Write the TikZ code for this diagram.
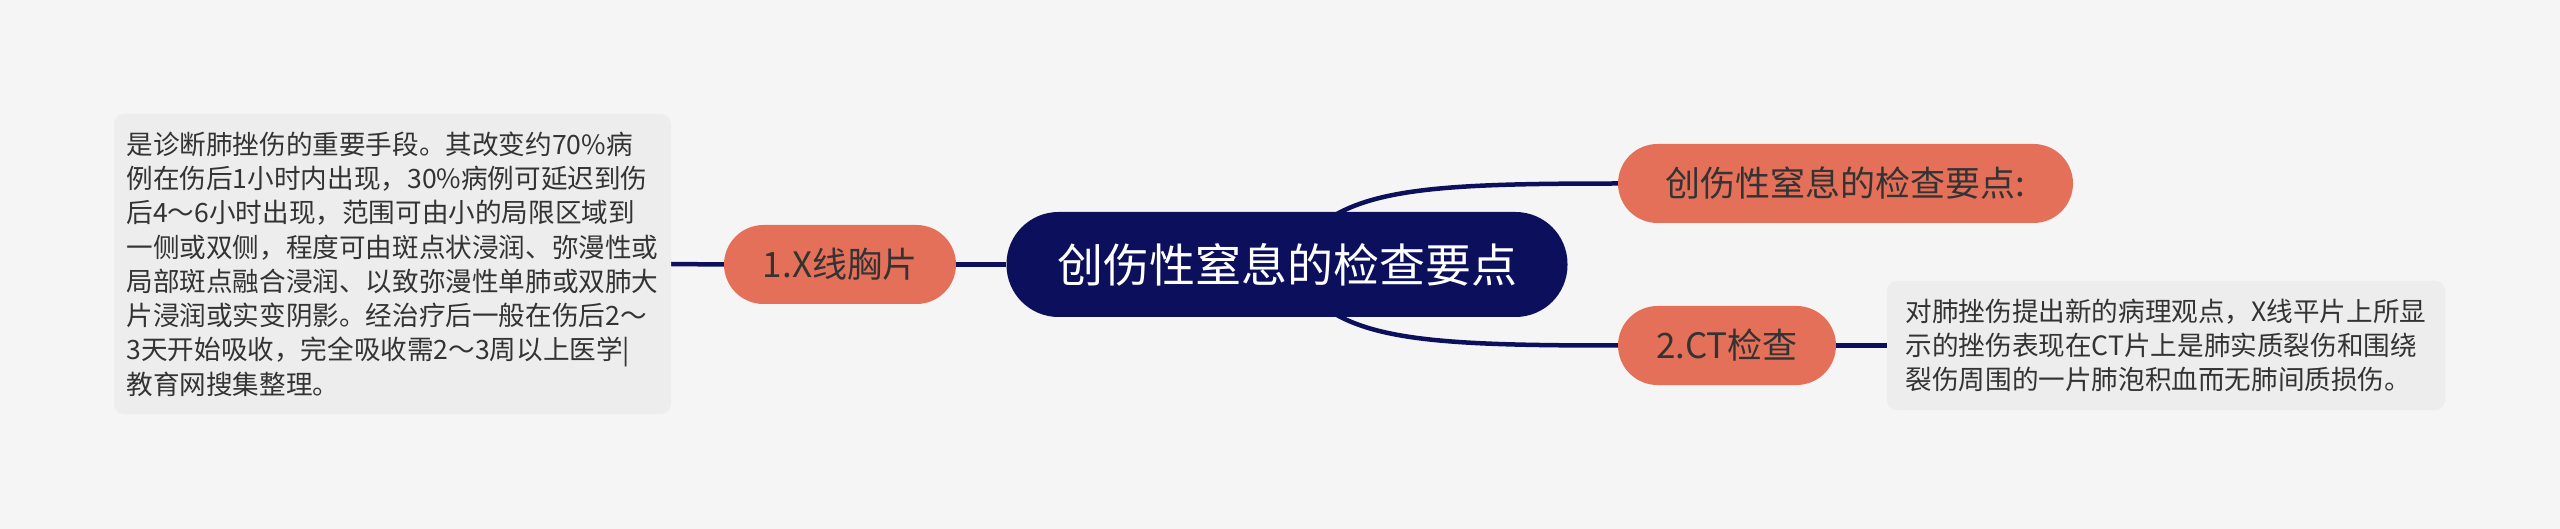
\documentclass[tikz,border=0pt]{standalone}
\usepackage{fontspec}
\setmainfont{Noto Sans CJK SC}
\usetikzlibrary{backgrounds}
\definecolor{bgc}{HTML}{F5F5F5}
\definecolor{navy}{HTML}{0B0F5C}
\definecolor{salmon}{HTML}{E5705A}
\definecolor{boxc}{HTML}{EDEDED}
\definecolor{txt}{HTML}{333333}
\begin{document}
\begin{tikzpicture}[x=1pt,y=-1pt,
  rootbox/.style={fill=navy, text=white, rounded corners=52pt, minimum width=561pt, minimum height=105pt, inner sep=0pt, font=\fontsize{46}{50}\selectfont},
  branch/.style={fill=salmon, text=txt, rounded corners=39.5pt, minimum height=79pt, inner sep=0pt, font=\fontsize{35}{40}\selectfont},
  note/.style={fill=boxc, text=txt, rounded corners=10pt, align=left, inner sep=0pt, font=\fontsize{26.6}{34.3}\selectfont},
  link/.style={draw=navy, line width=4.5pt}
]
\useasboundingbox (0,0) rectangle (2560,529);

\node[rootbox] (root) at (1287,264.5) {创伤性窒息的检查要点};
\node[branch, minimum width=232pt] (xray) at (840,264.5) {1.X线胸片};
\node[branch, minimum width=455pt] (top) at (1845.5,183.5) {创伤性窒息的检查要点:};
\node[branch, minimum width=218pt] (ct) at (1727,345.5) {2.CT检查};
\node[note, minimum width=557pt, minimum height=300pt] (xnote) at (392.5,264) {是诊断肺挫伤的重要手段。其改变约70\%病\\例在伤后1小时内出现，30\%病例可延迟到伤\\后4～6小时出现，范围可由小的局限区域到\\一侧或双侧，程度可由斑点状浸润、弥漫性或\\局部斑点融合浸润、以致弥漫性单肺或双肺大\\片浸润或实变阴影。经治疗后一般在伤后2～\\3天开始吸收，完全吸收需2～3周以上医学|\\教育网搜集整理。};
\node[note, minimum width=558pt, minimum height=129pt] (ctnote) at (2166,345.5) {对肺挫伤提出新的病理观点，X线平片上所显\\示的挫伤表现在CT片上是肺实质裂伤和围绕\\裂伤周围的一片肺泡积血而无肺间质损伤。};

\begin{scope}[on background layer]
\fill[bgc] (0,0) rectangle (2560,529);
\draw[link] (xnote.east) -- (xray.west);
\draw[link] (xray.east) -- (root.west);
\draw[link] (ct.east) -- (ctnote.west);
\draw[link] (root.center) .. controls +(43,-74) and +(-218,0) .. (top.west);
\draw[link] (root.center) .. controls +(43,74) and +(-218,0) .. (ct.west);
\end{scope}
\end{tikzpicture}
\end{document}
